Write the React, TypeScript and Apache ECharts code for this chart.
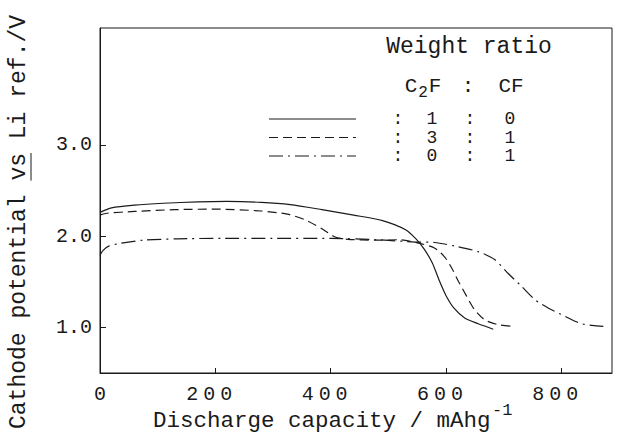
import React, { useEffect, useRef } from "react";
import * as echarts from "echarts";

const FONT = "'Liberation Mono', 'DejaVu Sans Mono', monospace";
const INK = "#1a1a1a";

// C2F : CF = 1 : 0 (solid)
const solidCap = [0, 20, 60, 110, 170, 220, 280, 330, 385, 440, 490, 530, 548, 562, 576, 588, 600, 614, 633, 656, 682];
const solidV = [2.26, 2.31, 2.34, 2.36, 2.375, 2.38, 2.37, 2.345, 2.29, 2.23, 2.17, 2.07, 1.97, 1.86, 1.71, 1.52, 1.35, 1.21, 1.1, 1.04, 0.98];

// C2F : CF = 3 : 1 (dashed)
const dashCap = [0, 12, 60, 130, 200, 280, 325, 355, 385, 408, 430, 480, 520, 548, 580, 598, 610, 622, 636, 650, 668, 690, 718];
const dashV = [2.23, 2.25, 2.27, 2.29, 2.295, 2.275, 2.24, 2.18, 2.08, 1.99, 1.965, 1.955, 1.96, 1.93, 1.87, 1.77, 1.65, 1.5, 1.34, 1.19, 1.08, 1.03, 1.01];

// C2F : CF = 0 : 1 (dash-dot)
const dotCap = [0, 5, 15, 35, 75, 135, 210, 300, 400, 480, 547, 580, 616, 656, 685, 708, 731, 755, 778, 807, 835, 873];
const dotV = [1.79, 1.84, 1.89, 1.92, 1.955, 1.97, 1.975, 1.975, 1.975, 1.96, 1.935, 1.93, 1.89, 1.83, 1.74, 1.59, 1.45, 1.3, 1.21, 1.12, 1.04, 1.01];

const xTickValues = [0, 200, 400, 600, 800];
const yTickValues = [1.0, 2.0, 3.0];

const legendC2F = ["1", "3", "0"];
const legendCF = ["0", "1", "1"];

const SOLID: any = "solid";
const DASHED = [9, 5];
const DASHDOT = [14, 5, 2, 5];
const lineTypes = [SOLID, DASHED, DASHDOT];

function pairs(xs: number[], ys: number[]) {
  return xs.map((x, i) => [x, ys[i]]);
}

export default function App() {
  const ref = useRef<HTMLDivElement>(null);
  useEffect(() => {
    const chart = echarts.init(ref.current!, null, { renderer: "svg" });
    const seriesData = [pairs(solidCap, solidV), pairs(dashCap, dashV), pairs(dotCap, dotV)];

    const legendRowsY = [119, 137.5, 156];
    const legendGraphics: any[] = [];
    legendRowsY.forEach((y, i) => {
      const dash = lineTypes[i];
      legendGraphics.push({
        type: "line",
        shape: { x1: 269, y1: y, x2: 356, y2: y },
        style: { stroke: INK, lineWidth: 1.2, lineDash: Array.isArray(dash) ? dash : null },
      });
      const cells: [number, string][] = [
        [398, ":"],
        [432, legendC2F[i]],
        [470, ":"],
        [510, legendCF[i]],
      ];
      cells.forEach(([x, t]) => {
        legendGraphics.push({
          type: "text",
          x,
          y,
          style: { text: t, font: `18px ${FONT}`, fill: INK, textAlign: "center", textVerticalAlign: "middle" },
        });
      });
    });

    const txt = (x: number, y: number, t: string, size: number, align = "center", extra: any = {}) => ({
      type: "text",
      x,
      y,
      ...extra,
      style: { text: t, font: `${size}px ${FONT}`, fill: INK, textAlign: align, textVerticalAlign: "middle" },
    });

    const option: any = {
      animation: false,
      backgroundColor: "#fff",
      grid: { left: 100, right: 5, top: 28, bottom: 64, show: true, borderColor: INK, borderWidth: 1, containLabel: false },
      xAxis: {
        type: "value",
        min: 0,
        max: 888,
        axisLine: { show: true, lineStyle: { color: INK, width: 1 } },
        axisTick: { show: true, inside: true, length: 5, customValues: xTickValues, lineStyle: { color: INK } },
        splitLine: { show: false },
        axisLabel: {
          customValues: xTickValues,
          margin: 11,
          color: INK,
          fontFamily: FONT,
          fontSize: 20,
          formatter: (v: number) =>
            String(v).split("").map((c) => `{d|${c}}`).join("") + (v === 0 ? "" : "{p|}"),
          rich: {
            d: { width: 17, align: "center", fontSize: 20, fontFamily: FONT, color: INK },
            p: { width: 12, fontSize: 20 },
          },
        },
      },
      yAxis: {
        type: "value",
        min: 0.5,
        max: 4.28,
        axisLine: { show: true, lineStyle: { color: INK, width: 1 } },
        axisTick: { show: true, inside: true, length: 6, customValues: yTickValues, lineStyle: { color: INK } },
        splitLine: { show: false },
        axisLabel: {
          customValues: yTickValues,
          margin: 8,
          color: INK,
          fontFamily: FONT,
          fontSize: 20,
          formatter: (v: number) => v.toFixed(1).split("").map((c) => `{d|${c}}`).join(""),
          rich: { d: { width: 12, align: "center", fontSize: 20, fontFamily: FONT, color: INK } },
        },
      },
      series: seriesData.map((d, i) => ({
        type: "line",
        data: d,
        symbol: "none",
        showSymbol: false,
        smooth: 0.25,
        lineStyle: { color: INK, width: 1.2, type: lineTypes[i] },
      })),
      graphic: [
        txt(19, 222, "Cathode potential vs Li ref./V", 23, "center", { rotation: Math.PI / 2 }),
        { type: "line", shape: { x1: 31, y1: 153, x2: 31, y2: 180.6 }, style: { stroke: INK, lineWidth: 1 } },
        txt(153, 421, "Discharge capacity / mAhg", 22.5, "left"),
        txt(492, 410, "-1", 17, "left"),
        txt(469, 47, "Weight ratio", 23, "center"),
        txt(411, 86, "C", 21, "center"),
        txt(423, 93, "2", 16, "center"),
        txt(435, 86, "F", 21, "center"),
        txt(468, 86, ":", 21, "center"),
        txt(511, 86, "CF", 21, "center"),
        ...legendGraphics,
      ],
    };
    chart.setOption(option);
    return () => chart.dispose();
  }, []);
  return <div ref={ref} style={{ position: "fixed", left: 0, top: 0, width: 617, height: 437, background: "#fff" }} />;
}
